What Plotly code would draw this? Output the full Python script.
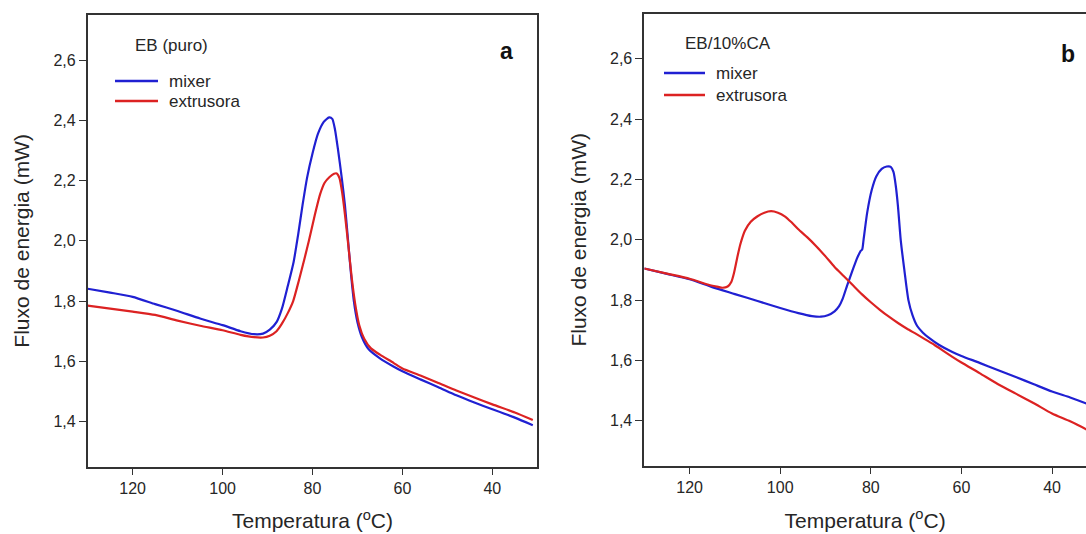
import plotly.graph_objects as go

# ---------------- data ----------------
# Panel a: EB (puro)
a_mixer_T = [130, 125, 120, 115, 110, 105, 100, 96, 93, 91, 89.5, 88, 86.8, 85.5, 84.2, 83.2,
             82.2, 81.2, 80, 78.8, 77.5, 76.3, 75.6, 75.0, 74.3, 73.5, 72.8, 72.2, 71.5, 70.8,
             70.0, 69.0, 67.5, 65, 62, 60, 56, 52, 48, 44, 40, 35, 31]
a_mixer_Q = [1.841, 1.828, 1.814, 1.790, 1.767, 1.742, 1.720, 1.700, 1.690, 1.692, 1.705, 1.730,
             1.775, 1.850, 1.930, 2.020, 2.120, 2.210, 2.290, 2.355, 2.395, 2.410, 2.405, 2.370,
             2.300, 2.210, 2.120, 2.020, 1.900, 1.800, 1.730, 1.680, 1.640, 1.610, 1.583, 1.567,
             1.540, 1.514, 1.487, 1.463, 1.441, 1.413, 1.388]

a_extr_T = [130, 125, 120, 115, 110, 105, 100, 96, 93, 91, 89.5, 88, 86.8, 85.5, 84.3, 83,
            81.8, 80.8, 79.5, 78.3, 77.3, 76.2, 75.2, 74.6, 74.0, 73.4, 72.8, 72.0, 71.3, 70.5,
            69.6, 68.5, 67, 65, 62, 60, 56, 52, 48, 44, 40, 35, 31]
a_extr_Q = [1.785, 1.775, 1.765, 1.754, 1.735, 1.718, 1.703, 1.688, 1.680, 1.679, 1.685, 1.700,
            1.725, 1.760, 1.800, 1.870, 1.940, 2.000, 2.085, 2.155, 2.193, 2.212, 2.223, 2.224,
            2.208, 2.160, 2.090, 1.980, 1.880, 1.790, 1.720, 1.675, 1.643, 1.622, 1.595, 1.576,
            1.553, 1.528, 1.503, 1.480, 1.457, 1.430, 1.405]

# Panel b: EB/10%CA
b_mixer_T = [130, 125, 120, 115, 110, 105, 100, 96, 93, 91, 89.5, 88, 87, 86.2, 85.2, 84.0,
             83.0, 82.3, 81.9, 81.6, 80.8, 79.8, 78.8, 77.6, 76.5, 75.6, 75.0, 74.5, 74.0, 73.4,
             72.6, 71.7, 70.8, 69.8, 68.5, 67, 65, 62, 60, 56, 52, 48, 44, 40, 36, 32, 30]
b_mixer_Q = [1.905, 1.887, 1.869, 1.843, 1.820, 1.797, 1.774, 1.757, 1.747, 1.745, 1.750, 1.763,
             1.780, 1.805, 1.850, 1.900, 1.940, 1.962, 1.968, 2.000, 2.090, 2.165, 2.210, 2.235,
             2.243, 2.242, 2.225, 2.180, 2.110, 2.000, 1.900, 1.800, 1.750, 1.715, 1.692, 1.673,
             1.652, 1.628, 1.615, 1.592, 1.568, 1.545, 1.521, 1.497, 1.477, 1.455, 1.444]

b_extr_T = [130, 125, 120, 116, 114, 112.7, 111.6, 110.8, 110.2, 109.5, 108.8, 107.8, 106.5, 105,
            103.5, 102, 100.5, 99, 97.5, 96, 94, 92, 90, 88, 86, 84, 82, 80, 78, 76, 74, 72,
            70, 68, 66, 64, 62, 60, 56, 52, 48, 44, 40, 36, 32, 30]
b_extr_Q = [1.905, 1.888, 1.871, 1.852, 1.845, 1.841, 1.845, 1.860, 1.890, 1.940, 1.985, 2.030,
            2.060, 2.078, 2.090, 2.095, 2.090, 2.078, 2.058, 2.035, 2.008, 1.978, 1.945, 1.910,
            1.880, 1.850, 1.820, 1.793, 1.768, 1.745, 1.724, 1.705, 1.688, 1.670, 1.652, 1.632,
            1.612, 1.593, 1.558, 1.522, 1.490, 1.458, 1.424, 1.398, 1.368, 1.352]

series_names = ["mixer", "extrusora"]
panel_titles = ["EB (puro)", "EB/10%CA"]
panel_letters = ["a", "b"]
x_ticks = [120, 100, 80, 60, 40]
y_ticks = [1.4, 1.6, 1.8, 2.0, 2.2, 2.4, 2.6]

# ---------------- styling ----------------
W, H = 1086, 534
FONT = "Liberation Sans, Arial, sans-serif"
BLUE = "#2020d2"
RED = "#dc2222"
COLORS = [BLUE, RED]
AXC = "#333333"
TXT = "#262626"

fig = go.Figure()

def add(xs, ys, name, color, xa, ya):
    fig.add_trace(go.Scatter(
        x=xs, y=ys, name=name, mode="lines", showlegend=False,
        line=dict(color=color, width=2.2, shape="spline", smoothing=0.6),
        xaxis=xa, yaxis=ya, hoverinfo="x+y+name"))

add(a_mixer_T, a_mixer_Q, series_names[0], BLUE, "x", "y")
add(a_extr_T, a_extr_Q, series_names[1], RED, "x", "y")
add(b_mixer_T, b_mixer_Q, series_names[0], BLUE, "x2", "y2")
add(b_extr_T, b_extr_Q, series_names[1], RED, "x2", "y2")

def px_x(p):
    return p / W

def px_y(p):
    return 1 - p / H

xcommon = dict(
    tickmode="array", tickvals=x_ticks, ticks="outside", ticklen=6, tickwidth=1.3,
    tickcolor=AXC, showline=True, linecolor=AXC, linewidth=1.7, mirror=True,
    showgrid=False, zeroline=False,
    tickfont=dict(family=FONT, size=16, color=TXT),
    title=dict(text="Temperatura (<sup>o</sup>C)", font=dict(family=FONT, size=21, color=TXT),
               standoff=18),
)
ycommon = dict(
    tickmode="array", tickvals=y_ticks, tickformat=".1f", ticks="outside", ticklen=7,
    tickwidth=1.3, tickcolor=AXC, showline=True, linecolor=AXC, linewidth=1.7,
    showgrid=False, zeroline=False, range=[1.25, 2.75],
    tickfont=dict(family=FONT, size=16, color=TXT),
    title=dict(text="Fluxo de energia (mW)", font=dict(family=FONT, size=21, color=TXT),
               standoff=18),
)

# legend blocks (swatch + label) placed like the reference's in-plot keys
legend_blocks = [
    dict(title=panel_titles[0], title_x=133, title_y=46,
         line_x0=115, line_x1=158, text_x=167, rows_y=[81, 101]),
    dict(title=panel_titles[1], title_x=683, title_y=43.5,
         line_x0=664, line_x1=705, text_x=714, rows_y=[73, 95]),
]

shapes = []
annotations = []
for blk in legend_blocks:
    annotations.append(dict(text=blk["title"], x=px_x(blk["title_x"]), y=px_y(blk["title_y"]),
                            xref="paper", yref="paper", xanchor="left", yanchor="middle",
                            showarrow=False, font=dict(family=FONT, size=17, color=TXT)))
    for name, color, ry in zip(series_names, COLORS, blk["rows_y"]):
        shapes.append(dict(type="line", xref="paper", yref="paper",
                           x0=px_x(blk["line_x0"]), x1=px_x(blk["line_x1"]),
                           y0=px_y(ry), y1=px_y(ry),
                           line=dict(color=color, width=2.4)))
        annotations.append(dict(text=name, x=px_x(blk["text_x"]), y=px_y(ry),
                                xref="paper", yref="paper", xanchor="left", yanchor="middle",
                                showarrow=False, font=dict(family=FONT, size=17, color=TXT)))

for letter, lx, ly in zip(panel_letters, [507, 1068], [51, 54]):
    annotations.append(dict(text="<b>%s</b>" % letter, x=px_x(lx), y=px_y(ly), xref="paper",
                            yref="paper", xanchor="center", yanchor="middle", showarrow=False,
                            font=dict(family=FONT, size=23, color="#111111")))

fig.update_layout(
    width=W, height=H,
    margin=dict(l=0, r=0, t=0, b=0, autoexpand=False),
    paper_bgcolor="white", plot_bgcolor="white",
    separators=", ",
    font=dict(family=FONT, color=TXT),
    showlegend=False,
    xaxis=dict(xcommon, domain=[px_x(87.7), px_x(537.3)], range=[130, 30], anchor="y"),
    yaxis=dict(ycommon, domain=[px_y(466.7), px_y(15)], anchor="x", mirror=True),
    xaxis2=dict(xcommon, domain=[px_x(644.3), 1.0], range=[130, 32.5], anchor="y2"),
    yaxis2=dict(ycommon, domain=[px_y(466), px_y(13.6)], anchor="x2", mirror=False),
    shapes=shapes,
    annotations=annotations,
)

fig.write_html("out.html")
